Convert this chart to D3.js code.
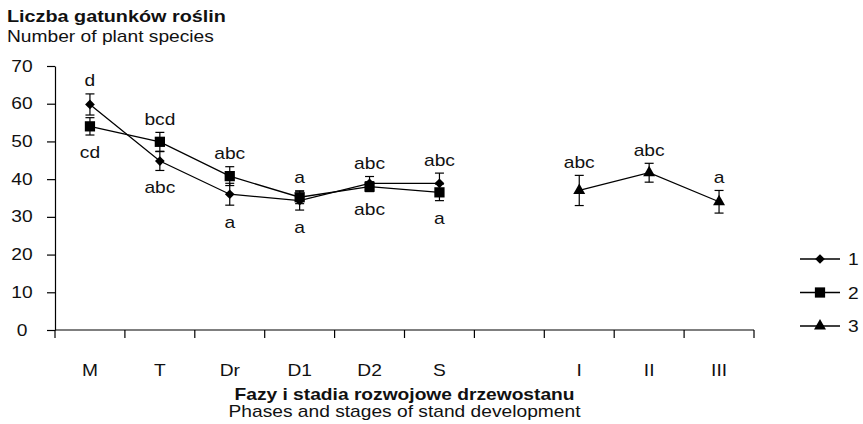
<!DOCTYPE html>
<html>
<head>
<meta charset="utf-8">
<script src="https://cdn.jsdelivr.net/npm/d3@7"></script>
<style>
  body { margin: 0; background: #fff; }
  svg text { font-family: Arial, "Liberation Sans", sans-serif; fill: #111; }
</style>
</head>
<body>
<svg width="863" height="424"></svg>
<script>
// categories (one empty slot between the two groups)
var categories = ["M", "T", "Dr", "D1", "D2", "S", "", "I", "II", "III"];
var yTicks = [0, 10, 20, 30, 40, 50, 60, 70];

var cats12 = ["M", "T", "Dr", "D1", "D2", "S"];
var mean1 = [59.8, 44.8, 36.0, 34.3, 38.9, 38.9];
var err1  = [2.8, 2.5, 2.9, 2.5, 1.8, 2.7];
var let1  = ["d", "abc", "a", "a", "abc", "abc"];

var mean2 = [54.0, 49.9, 40.8, 35.2, 38.0, 36.5];
var err2  = [2.3, 2.5, 2.5, 1.7, 1.3, 2.2];
var let2  = ["cd", "bcd", "abc", "a", "abc", "a"];

var cats3 = ["I", "II", "III"];
var mean3 = [37.0, 41.7, 34.0];
var err3  = [4.0, 2.5, 3.0];
var let3  = ["abc", "abc", "a"];

var SX = 1.2; // horizontal stretch of the original lettering

var svg = d3.select("svg"),
    margin = {top: 66, right: 109, bottom: 94, left: 55},
    width = 863 - margin.left - margin.right,
    height = 424 - margin.top - margin.bottom,
    g = svg.append("g").attr("transform", "translate(" + margin.left + "," + margin.top + ")");

function label(parent, x, y, s) {
  return parent.append("text")
    .attr("transform", "translate(" + x + "," + y + ") scale(" + SX + ",1)")
    .text(s);
}

var x = d3.scaleBand().domain(categories).range([0, width]);
var y = d3.scaleLinear().domain([0, 70]).range([height, 0]);
var cx = function(c) { return x(c) + x.bandwidth() / 2; };

// y axis
var ya = g.append("g").call(d3.axisLeft(y).tickValues(yTicks).tickSize(8).tickSizeOuter(0));
ya.selectAll("text").attr("x", null).attr("text-anchor", "middle")
  .attr("transform", "translate(" + (22 - margin.left) + ",0) scale(" + SX + ",1)")
  .style("font-size", "16px");
ya.select(".domain").attr("stroke-width", 1.2);
ya.selectAll("line").attr("stroke-width", 1.2);

// x axis: line + boundary ticks + centred labels
g.append("line").attr("x1", 0).attr("x2", width).attr("y1", height).attr("y2", height)
  .attr("stroke", "#000").attr("stroke-width", 1.2);
var bounds = categories.map(function(c) { return x(c); }).concat([width]);
g.selectAll(".xt").data(bounds).enter().append("line")
  .attr("x1", function(d) { return d; }).attr("x2", function(d) { return d; })
  .attr("y1", height).attr("y2", height + 8)
  .attr("stroke", "#000").attr("stroke-width", 1.2);

var xl = g.append("g").style("font-size", "16px").attr("text-anchor", "middle");
categories.forEach(function(c) { if (c) label(xl, cx(c), height + 46, c); });

// titles
label(svg, 7, 22, "Liczba gatunków roślin").style("font-size", "16.5px").style("font-weight", "bold");
label(svg, 7, 42, "Number of plant species").style("font-size", "16px");
var xt = svg.append("g").attr("text-anchor", "middle");
label(xt, margin.left + width / 2, 400, "Fazy i stadia rozwojowe drzewostanu").style("font-size", "16px").style("font-weight", "bold");
label(xt, margin.left + width / 2, 417, "Phases and stages of stand development").style("font-size", "16px");

// markers
var diamond = d3.symbol().type(d3.symbolDiamond2).size(60);
var square = d3.symbol().type(d3.symbolSquare).size(105);
var triangle = d3.symbol().type(d3.symbolTriangle).size(62);

var series = [
  {cats: cats12, mean: mean1, err: err1, lets: let1, sym: diamond},
  {cats: cats12, mean: mean2, err: err2, lets: let2, sym: square},
  {cats: cats3, mean: mean3, err: err3, lets: let3, sym: triangle}
];

var line = d3.line().x(function(d) { return cx(d.c); }).y(function(d) { return y(d.v); });

series.forEach(function(s) {
  var pts = s.cats.map(function(c, i) { return {c: c, v: s.mean[i], e: s.err[i], l: s.lets[i]}; });
  var sg = g.append("g");
  sg.append("path").datum(pts).attr("d", line).attr("fill", "none").attr("stroke", "#000").attr("stroke-width", 1.3);
  var eb = sg.selectAll(".eb").data(pts).enter().append("g");
  eb.append("line").attr("x1", function(d) { return cx(d.c); }).attr("x2", function(d) { return cx(d.c); })
    .attr("y1", function(d) { return y(d.v + d.e); }).attr("y2", function(d) { return y(d.v - d.e); });
  eb.append("line").attr("x1", function(d) { return cx(d.c) - 4.5; }).attr("x2", function(d) { return cx(d.c) + 4.5; })
    .attr("y1", function(d) { return y(d.v + d.e); }).attr("y2", function(d) { return y(d.v + d.e); });
  eb.append("line").attr("x1", function(d) { return cx(d.c) - 4.5; }).attr("x2", function(d) { return cx(d.c) + 4.5; })
    .attr("y1", function(d) { return y(d.v - d.e); }).attr("y2", function(d) { return y(d.v - d.e); });
  eb.selectAll("line").attr("stroke", "#000").attr("stroke-width", 1.2);
  sg.selectAll(".mk").data(pts).enter().append("path")
    .attr("d", s.sym)
    .attr("transform", function(d) { return "translate(" + cx(d.c) + "," + y(d.v) + ")"; })
    .attr("fill", "#000");
  s.pts = pts;
});

// significance letters: above the higher series, below the lower one
var lg = g.append("g").style("font-size", "16px").attr("text-anchor", "middle");
series.forEach(function(s, si) {
  s.pts.forEach(function(d, i) {
    var above = true;
    if (si < 2) {
      var other = series[1 - si].mean[i];
      above = d.v > other;
    }
    var yy = above ? y(d.v + d.e) - 7.5 : y(d.v - d.e) + 23;
    label(lg, cx(d.c), yy, d.l);
  });
});

// legend
var legend = svg.append("g").style("font-size", "16px");
series.forEach(function(s, i) {
  var ly = 259 + i * 33.5;
  var r = legend.append("g").attr("transform", "translate(800," + ly + ")");
  r.append("line").attr("x1", 0).attr("x2", 40).attr("stroke", "#000").attr("stroke-width", 1.3);
  r.append("path").attr("d", s.sym).attr("transform", "translate(20,0)").attr("fill", "#000");
  label(r, 48, 6, String(i + 1));
});
</script>
</body>
</html>
